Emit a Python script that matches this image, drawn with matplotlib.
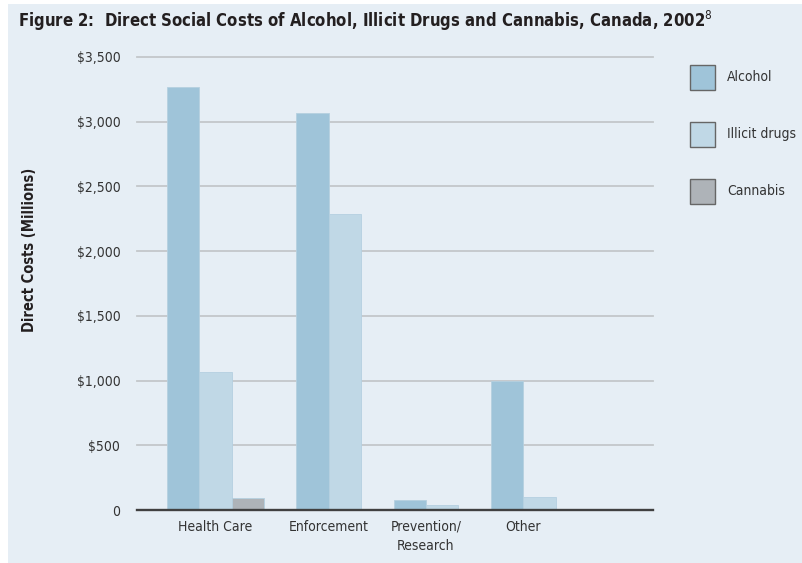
import matplotlib
matplotlib.use('Agg')
from matplotlib import pyplot as plt
from matplotlib.patches import Patch, Rectangle
import numpy as np

plt.rcParams['font.family'] = ['DejaVu Sans']
plt.rcParams['font.stretch'] = 'condensed'

# data (millions of dollars)
categories = ['Health Care', 'Enforcement', 'Prevention/\nResearch', 'Other']
alcohol = [3270, 3070, 77, 1000]
illicit = [1070, 2290, 38, 100]
cannabis = [90, np.nan, np.nan, np.nan]

series = ['Alcohol', 'Illicit drugs', 'Cannabis']
colors = ['#9fc4d9', '#c0d8e6', '#aeb3b8']
values = [alcohol, illicit, cannabis]

fig = plt.figure(figsize=(8.03, 5.63), dpi=100)
fig.patch.set_facecolor('white')
# light blue panel behind everything
fig.patches.append(Rectangle((8 / 803, 0), 1, 1 - 4 / 563, transform=fig.transFigure,
                             facecolor='#e6eef5', edgecolor='none', zorder=-10))

ax = fig.add_axes([137 / 803, 1 - 510 / 563, (652.7 - 137) / 803, (510 - 57) / 563])
ax.set_facecolor('none')

# lay bars out side by side, skipping missing series, one bar gap between groups
pos = 0
centers = []
for i, cat in enumerate(categories):
    start = pos
    for s in range(len(series)):
        v = values[s][i]
        if np.isnan(v):
            continue
        ax.bar(pos + 0.5, v, width=1.0, color=colors[s], edgecolor='#b5d0e0',
               linewidth=0.6, zorder=3)
        pos += 1
    centers.append((start + pos) / 2)
    pos += 1

ax.set_xlim(-0.92, 15.0)
ax.set_ylim(0, 3500)

yt = np.arange(0, 3501, 500)
ax.set_yticks(yt)
ax.set_yticklabels(['0'] + ['${:,}'.format(v) for v in yt[1:]], fontsize=10, color='#333333')
ax.set_xticks(centers)
ax.set_xticklabels(categories, fontsize=10, color='#333333', linespacing=1.5)
ax.tick_params(axis='both', length=0)
ax.tick_params(axis='y', pad=12)
ax.tick_params(axis='x', pad=7)

for v in yt[1:]:
    ax.axhline(v, color='#c3c7ca', linewidth=1.3, zorder=1, clip_on=False)
ax.axhline(0, color='#404040', linewidth=1.7, zorder=4, clip_on=False)

for sp in ax.spines.values():
    sp.set_visible(False)

fig.text(18 / 803, 1 - 27 / 563,
         'Figure 2:  Direct Social Costs of Alcohol, Illicit Drugs and Cannabis, Canada, 2002$^{8}$',
         fontsize=12, fontweight='bold', color='#231f20', va='baseline', ha='left')

fig.text(30 / 803, 1 - 250 / 563, 'Direct Costs (Millions)', rotation=90, fontsize=10.5,
         fontweight='bold', color='#231f20', ha='center', va='center')

handles = [Patch(facecolor=c, edgecolor='#666666', linewidth=1.0) for c in colors]
fig.legend(handles, series, loc='upper left', bbox_to_anchor=(684 / 803, 1 - 59 / 563),
           frameon=False, fontsize=10, handlelength=1.8, handleheight=2.39,
           labelspacing=2.31, handletextpad=0.9, borderaxespad=0, labelcolor='#333333')

fig.savefig('out.png', dpi=100, facecolor='white')
